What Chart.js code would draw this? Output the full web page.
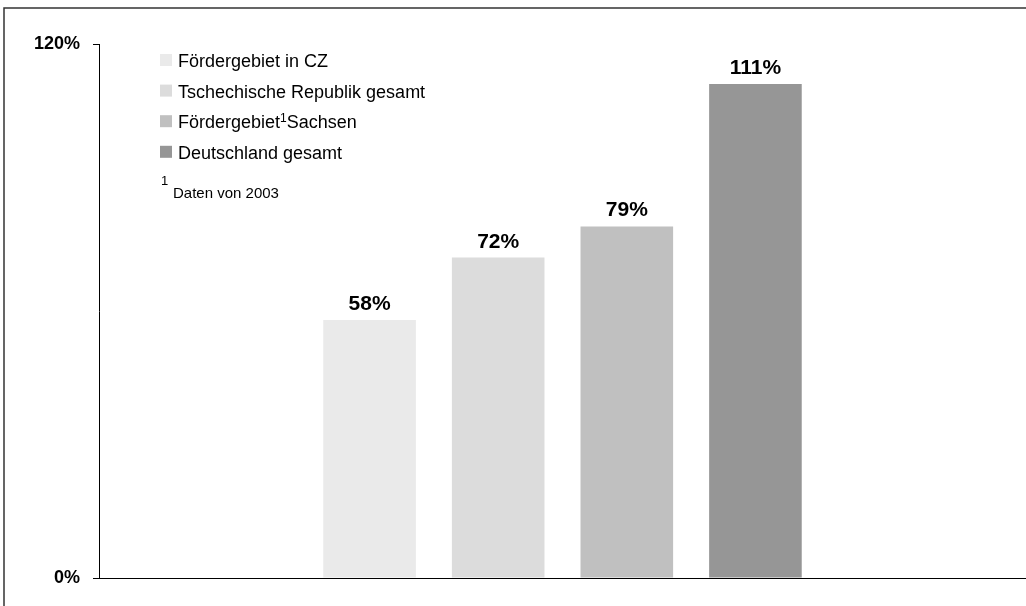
<!DOCTYPE html>
<html lang="de">
  <head>
    <meta charset="UTF-8" />
    <title>Fördergebiet Vergleich</title>
    <script src="https://cdn.jsdelivr.net/npm/chart.js"></script>
    <style>
      body { margin: 0; background: #fff; }
    </style>
  </head>
  <body>
    <canvas id="barChart" width="1026" height="606"></canvas>

    <script>
      const seriesLabels = [
        "Fördergebiet in CZ",
        "Tschechische Republik gesamt",
        "Fördergebiet\u00b9Sachsen",
        "Deutschland gesamt",
      ];
      const seriesValues = [58, 72, 79, 111];
      const seriesColors = ["#eaeaea", "#dcdcdc", "#c0c0c0", "#969696"];
      const yTicks = [0, 120];
      const footnote = "Daten von 2003";

      const font = "Arial, 'Liberation Sans', sans-serif";

      // outer frame, only top and left edges are visible in the original
      const framePlugin = {
        id: "frame",
        beforeDraw(chart) {
          const c = chart.ctx;
          c.save();
          c.fillStyle = "#fff";
          c.fillRect(0, 0, chart.width, chart.height);
          c.strokeStyle = "#333";
          c.lineWidth = 1.5;
          c.beginPath();
          c.moveTo(4, chart.height);
          c.lineTo(4, 8);
          c.lineTo(chart.width, 8);
          c.stroke();
          c.restore();
        },
      };

      // legend in the upper left with superscript marker and footnote
      const legendPlugin = {
        id: "customLegend",
        afterDraw(chart) {
          const c = chart.ctx;
          c.save();
          c.textBaseline = "alphabetic";
          c.fillStyle = "#000";
          chart.data.datasets.forEach((ds, i) => {
            const base = 67 + i * 30.6;
            c.fillStyle = ds.backgroundColor;
            c.fillRect(160, base - 13, 12, 12);
            c.fillStyle = "#000";
            c.font = "18px " + font;
            const parts = ds.label.split("\u00b9");
            let x = 178;
            c.textAlign = "left";
            c.fillText(parts[0], x, base);
            if (parts.length > 1) {
              x += c.measureText(parts[0]).width;
              c.font = "12px " + font;
              c.fillText("1", x, base - 6);
              x += c.measureText("1").width;
              c.font = "18px " + font;
              c.fillText(parts[1], x, base);
            }
          });
          c.font = "13px " + font;
          c.fillText("1", 161, 185);
          c.font = "15px " + font;
          c.fillText(footnote, 173, 198);
          c.restore();
        },
      };

      const valueLabels = {
        id: "valueLabels",
        afterDatasetsDraw(chart) {
          const c = chart.ctx;
          c.save();
          c.font = "bold 21px " + font;
          c.fillStyle = "#000";
          c.textAlign = "center";
          c.textBaseline = "alphabetic";
          chart.data.datasets.forEach((ds, i) => {
            const bar = chart.getDatasetMeta(i).data[0];
            c.fillText(ds.data[0] + "%", bar.x, bar.y - 10);
          });
          c.restore();
        },
      };

      const ctx = document.getElementById("barChart").getContext("2d");
      const chart = new Chart(ctx, {
        type: "bar",
        data: {
          labels: [""],
          datasets: seriesLabels.map((label, i) => ({
            label: label,
            data: [seriesValues[i]],
            backgroundColor: seriesColors[i],
            borderWidth: 0,
          })),
        },
        options: {
          responsive: false,
          animation: false,
          categoryPercentage: 0.555,
          barPercentage: 0.72,
          layout: { padding: { top: 44, left: 0, right: 0, bottom: 28 } },
          plugins: {
            legend: { display: false },
            tooltip: { enabled: false },
          },
          scales: {
            x: {
              grid: { display: false },
              ticks: { display: false },
              border: { display: true, color: "#000", width: 1 },
              afterFit(scale) {
                scale.height = 0;
              },
            },
            y: {
              min: yTicks[0],
              max: yTicks[yTicks.length - 1],
              afterBuildTicks(scale) {
                scale.ticks = yTicks.map((v) => ({ value: v }));
              },
              ticks: {
                padding: 13,
                color: "#000",
                font: { family: font, size: 18, weight: "bold" },
                callback: (v) => v + "%",
              },
              grid: {
                drawOnChartArea: false,
                drawTicks: true,
                tickLength: 6,
                color: "#000",
              },
              border: { display: true, color: "#000", width: 1 },
              afterFit(scale) {
                scale.width = 99;
              },
            },
          },
        },
        plugins: [framePlugin, legendPlugin, valueLabels],
      });
    </script>
  </body>
</html>
